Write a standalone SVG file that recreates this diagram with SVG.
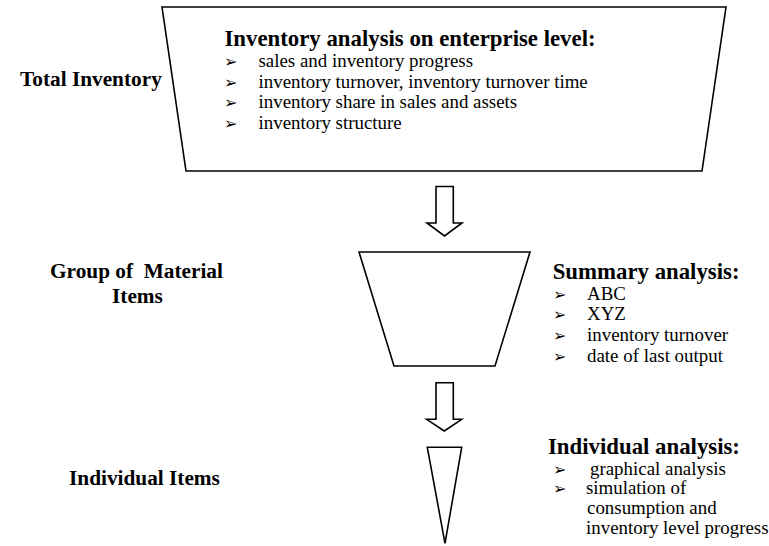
<svg xmlns="http://www.w3.org/2000/svg" width="769" height="546" viewBox="0 0 769 546">
<style>
.shape{fill:#fff;stroke:#000;stroke-width:1.6;stroke-linejoin:miter}
text{font-family:'Liberation Serif','Times New Roman',Times,serif;fill:#000}
.lbl{font-weight:bold;font-size:21.3px}
.hd{font-weight:bold;font-size:22.8px}
.it{font-size:18.9px}
.bl{font-family:'DejaVu Sans',sans-serif;font-size:16px}
</style>
<rect width="769" height="546" fill="#fff"/>
<g id="total-inventory">
<polygon class="shape" points="162,7 726,7 702,171 186,171"/>
<text class="lbl" x="20" y="86">Total Inventory</text>
<text class="hd" x="224.5" y="46">Inventory analysis on enterprise level:</text>
<text class="bl" x="224" y="67">➢</text><text class="it" x="258.5" y="67">sales and inventory progress</text>
<text class="bl" x="224" y="88">➢</text><text class="it" x="258.5" y="88">inventory turnover, inventory turnover time</text>
<text class="bl" x="224" y="108">➢</text><text class="it" x="258.5" y="108">inventory share in sales and assets</text>
<text class="bl" x="224" y="129">➢</text><text class="it" x="258.5" y="129">inventory structure</text>
</g>
<g id="group-material">
<polygon class="shape" points="359,252 530,252 495,366 394,366"/>
<text class="lbl" x="50" y="278" xml:space="preserve">Group of  Material</text>
<text class="lbl" x="112" y="303">Items</text>
<text class="hd" x="552.7" y="279">Summary analysis:</text>
<text class="bl" x="553" y="300">➢</text><text class="it" x="587" y="300">ABC</text>
<text class="bl" x="553" y="320">➢</text><text class="it" x="587" y="320">XYZ</text>
<text class="bl" x="553" y="341">➢</text><text class="it" x="587" y="341">inventory turnover</text>
<text class="bl" x="553" y="362">➢</text><text class="it" x="587" y="362">date of last output</text>
</g>
<g id="individual-items">
<polygon class="shape" points="427.3,447.3 461.7,447.3 445,543.3"/>
<text class="lbl" x="69" y="485">Individual Items</text>
<text class="hd" x="548" y="454">Individual analysis:</text>
<text class="bl" x="553" y="475">➢</text><text class="it" x="590" y="475">graphical analysis</text>
<text class="bl" x="553" y="494">➢</text><text class="it" x="586" y="494">simulation of</text>
<text class="it" x="587" y="514">consumption and</text>
<text class="it" x="586" y="534">inventory level progress</text>
</g>
<g id="connectors">
<polygon class="shape" points="436,186.5 453.3,186.5 453.3,223 462,223 444.5,236 427,223 436,223"/>
<polygon class="shape" points="436,382.7 453.3,382.7 453.3,419.3 461.7,419.3 444.3,431 426.7,419.3 436,419.3"/>
</g>
</svg>
